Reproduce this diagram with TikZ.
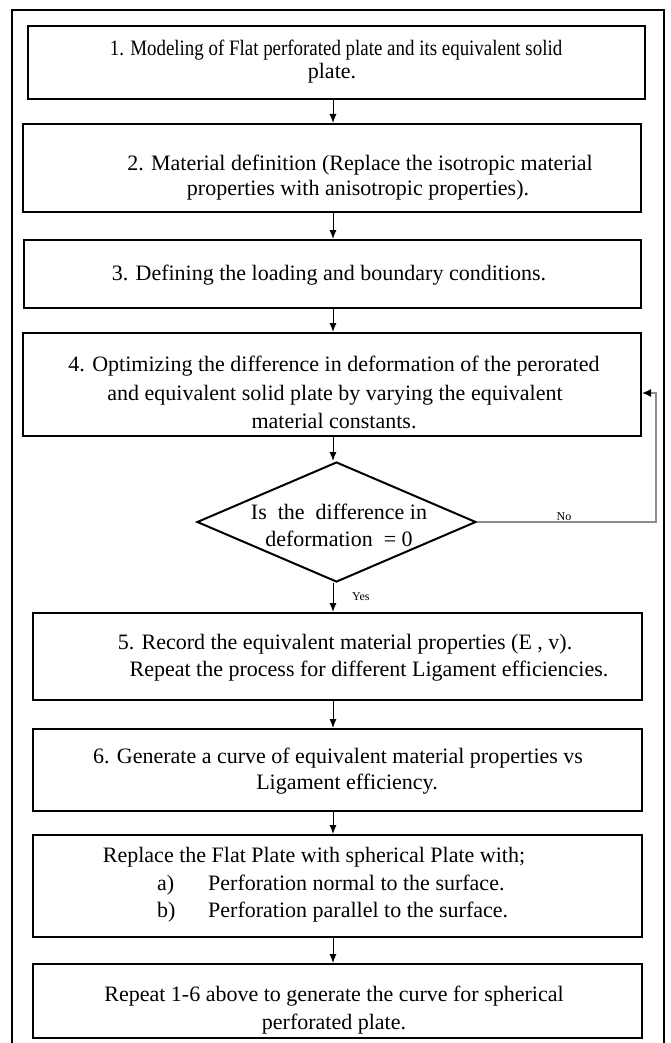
\documentclass[tikz,border=0pt]{standalone}
\usepackage{fontspec}
\setmainfont{Liberation Serif}
\newfontfamily\condfont[FakeStretch=0.86]{Liberation Serif}
\usetikzlibrary{shapes.geometric,arrows.meta}
\begin{document}
\begin{tikzpicture}[x=1pt,y=-1pt,
 box/.style={draw, line width=2pt, inner sep=0pt},
 txt/.style={inner sep=0pt, anchor=base, font=\fontsize{22}{26}\selectfont},
 txtl/.style={inner sep=0pt, anchor=base west, font=\fontsize{22}{26}\selectfont},
 lab/.style={inner sep=0pt, font=\fontsize{12}{14}\selectfont},
 flow/.style={-{Latex[length=9pt,width=7pt]}, line width=1pt},
 fbline/.style={draw=black!45, line width=1.5pt, -{Latex[length=9pt,width=8pt,color=black]}},
]
\useasboundingbox (0,0) rectangle (670,1043);
\draw[line width=1.5pt] (12,10) rectangle (664,1060);

\coordinate (ax) at (333,0);
\coordinate (fb) at (656,393);

\node[box, minimum width=617, minimum height=73] (b1) at (336.5,62.5) {};
\node[box, minimum width=618, minimum height=88] (b2) at (332,168) {};
\node[box, minimum width=617, minimum height=68] (b3) at (332.5,274) {};
\node[box, minimum width=618, minimum height=103] (b4) at (332,384.5) {};
\node[draw, shape=diamond, line width=2pt, inner sep=0pt, minimum width=279, minimum height=120] (d) at (336.5,522) {};
\node[box, minimum width=609, minimum height=87] (b5) at (337.5,656.5) {};
\node[box, minimum width=609, minimum height=82] (b6) at (337.5,770) {};
\node[box, minimum width=609, minimum height=102] (b7) at (337.5,886) {};
\node[box, minimum width=609, minimum height=74] (b8) at (337.5,1001) {};

% texts
\node[txt, font=\fontsize{22}{26}\condfont] (t1a) at (336,56) {1. Modeling of Flat perforated plate and its equivalent solid};
\node[txt] (t1b) at (332,79) {plate.};
\node[txt] (t2a) at (360,171) {2. Material definition (Replace the isotropic material};
\node[txt] (t2b) at (358,195) {properties with anisotropic properties).};
\node[txt] (t3a) at (329,280) {3. Defining the loading and boundary conditions.};
\node[txt] (t4a) at (334,371) {4. Optimizing the difference in deformation of the perorated};
\node[txt] (t4b) at (335,400) {and equivalent solid plate by varying the equivalent};
\node[txt] (t4c) at (334,428) {material constants.};
\node[txt] (tda) at (339,519) {Is\ \ the\ \ difference in};
\node[txt] (tdb) at (339,546) {deformation\ \ = 0};
\node[txt] (t5a) at (345,649) {5. Record the equivalent material properties (E , v).};
\node[txt] (t5b) at (369,676) {Repeat the process for different Ligament efficiencies.};
\node[txt] (t6a) at (338,763) {6. Generate a curve of equivalent material properties vs};
\node[txt] (t6b) at (347,789) {Ligament efficiency.};
\node[txt] (t7a) at (314,862) {Replace the Flat Plate with spherical Plate with;};
\node[txtl] (t7b) at (157,890) {a)};
\node[txtl] (t7c) at (208,890) {Perforation normal to the surface.};
\node[txtl] (t7d) at (157,917) {b)};
\node[txtl] (t7e) at (208,917) {Perforation parallel to the surface.};
\node[txt] (t8a) at (334,1001) {Repeat 1-6 above to generate the curve for spherical};
\node[txt] (t8b) at (334,1029) {perforated plate.};

% connectors
\draw[flow] (b1.south -| ax) -- (b2.north -| ax);
\draw[flow] (b2.south -| ax) -- (b3.north -| ax);
\draw[flow] (b3.south -| ax) -- (b4.north -| ax);
\draw[flow] (b4.south -| ax) -- (d.north -| ax);
\draw[flow] (d.south -| ax) -- (b5.north -| ax);
\draw[flow] (b5.south -| ax) -- (b6.north -| ax);
\draw[flow] (b6.south -| ax) -- (b7.north -| ax);
\draw[flow] (b7.south -| ax) -- (b8.north -| ax);
\draw[fbline] (d.east) -| (fb) -- (fb -| b4.east);

\node[lab, anchor=base] (no) at (564,520) {No};
\node[lab, anchor=base west] (yes) at (352,600) {Yes};
\end{tikzpicture}
\end{document}
